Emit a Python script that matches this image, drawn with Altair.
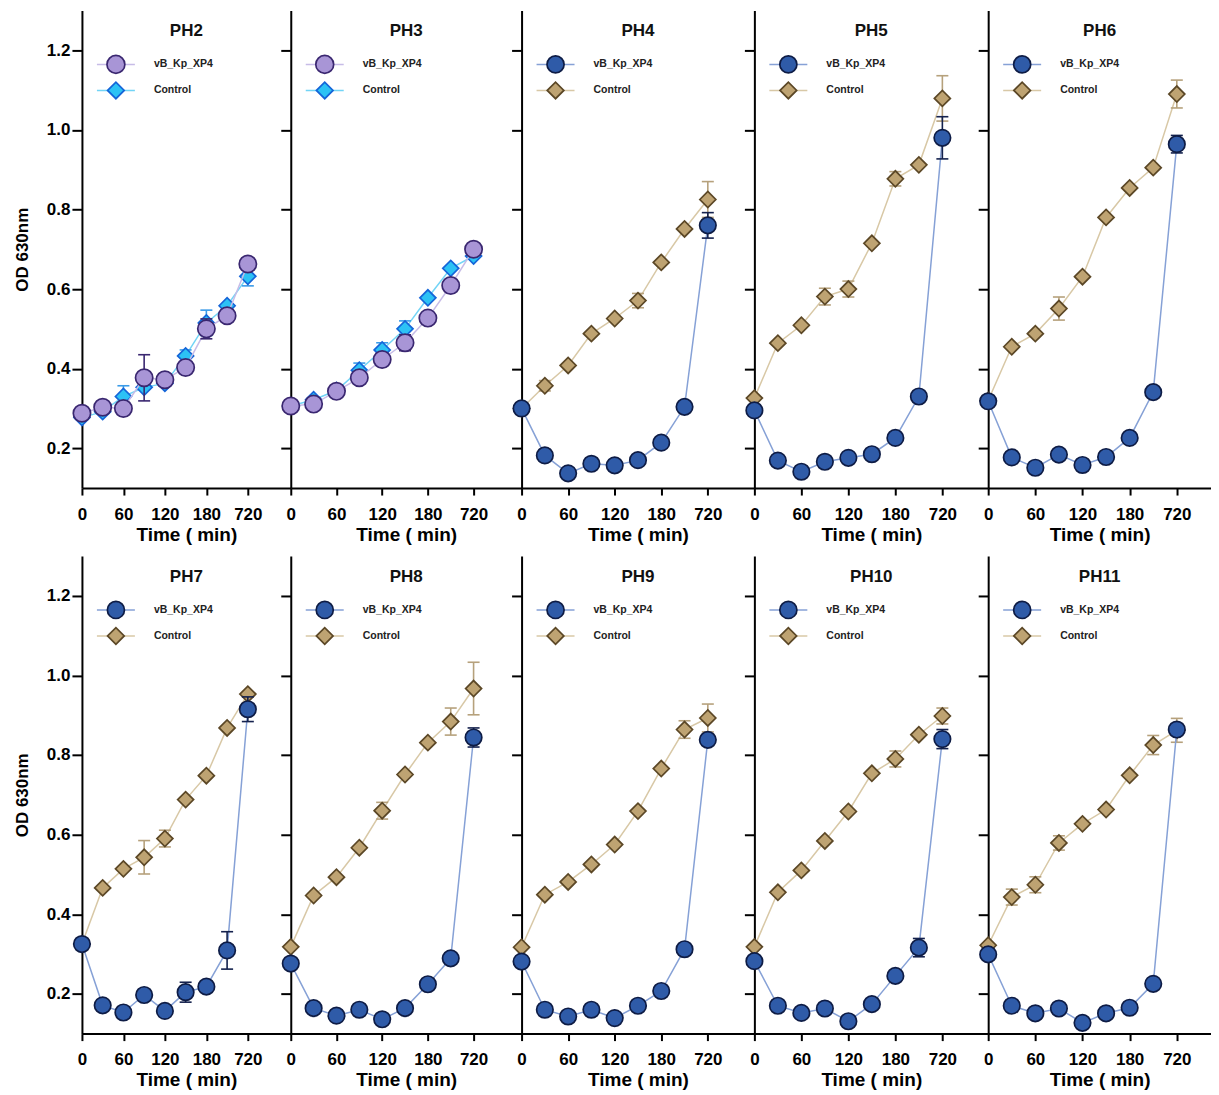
import altair as alt
import pandas as pd

# ---------------- data ----------------
PANELS = ["PH2", "PH3", "PH4", "PH5", "PH6", "PH7", "PH8", "PH9", "PH10", "PH11"]
TIME_IDX = [0, 1, 2, 3, 4, 5, 6, 7, 8]          # 0,30,...,210,720 min
TICK_IDX = [0, 2, 4, 6, 8]
TICK_LABELS = ["0", "60", "120", "180", "720"]
SERIES = ["vB_Kp_XP4", "Control"]

XP4_MEAN = {
    "PH2": [0.288, 0.303, 0.300, 0.377, 0.372, 0.403, 0.500, 0.533, 0.663],
    "PH3": [0.306, 0.311, 0.343, 0.377, 0.423, 0.465, 0.527, 0.609, 0.700],
    "PH4": [0.300, 0.182, 0.137, 0.161, 0.157, 0.170, 0.214, 0.304, 0.760],
    "PH5": [0.295, 0.169, 0.141, 0.166, 0.176, 0.185, 0.226, 0.330, 0.980],
    "PH6": [0.318, 0.177, 0.151, 0.184, 0.158, 0.178, 0.226, 0.341, 0.964],
    "PH7": [0.325, 0.171, 0.153, 0.197, 0.157, 0.204, 0.218, 0.309, 0.915],
    "PH8": [0.276, 0.164, 0.145, 0.160, 0.136, 0.164, 0.224, 0.289, 0.844],
    "PH9": [0.281, 0.160, 0.143, 0.160, 0.139, 0.170, 0.207, 0.312, 0.838],
    "PH10": [0.282, 0.170, 0.152, 0.163, 0.131, 0.174, 0.245, 0.316, 0.840],
    "PH11": [0.299, 0.170, 0.151, 0.163, 0.127, 0.151, 0.165, 0.225, 0.864],
}
XP4_ERR = {
    "PH2": [0, 0, 0, 0.058, 0, 0, 0.025, 0, 0],
    "PH3": [0, 0, 0, 0, 0, 0.020, 0, 0, 0],
    "PH4": [0, 0.015, 0, 0, 0, 0, 0, 0, 0.032],
    "PH5": [0, 0, 0, 0, 0, 0, 0, 0, 0.053],
    "PH6": [0, 0, 0, 0, 0, 0, 0, 0, 0.022],
    "PH7": [0, 0, 0, 0, 0, 0.025, 0, 0.047, 0.031],
    "PH8": [0, 0, 0, 0, 0, 0, 0, 0, 0.024],
    "PH9": [0, 0, 0, 0, 0, 0, 0, 0, 0],
    "PH10": [0, 0, 0, 0, 0, 0, 0, 0.023, 0.024],
    "PH11": [0, 0, 0, 0, 0, 0, 0, 0, 0],
}
CTRL_MEAN = {
    "PH2": [0.277, 0.292, 0.330, 0.353, 0.363, 0.432, 0.515, 0.558, 0.632],
    "PH3": [0.306, 0.322, 0.345, 0.396, 0.447, 0.500, 0.578, 0.652, 0.683],
    "PH4": [0.300, 0.357, 0.408, 0.488, 0.526, 0.571, 0.667, 0.751, 0.825],
    "PH5": [0.326, 0.464, 0.509, 0.581, 0.600, 0.715, 0.877, 0.912, 1.079],
    "PH6": [0.320, 0.455, 0.488, 0.551, 0.631, 0.780, 0.854, 0.905, 1.090],
    "PH7": [0.325, 0.466, 0.514, 0.543, 0.590, 0.688, 0.748, 0.868, 0.953],
    "PH8": [0.318, 0.447, 0.493, 0.567, 0.660, 0.751, 0.831, 0.884, 0.967],
    "PH9": [0.317, 0.449, 0.481, 0.525, 0.575, 0.659, 0.766, 0.864, 0.893],
    "PH10": [0.318, 0.455, 0.510, 0.584, 0.658, 0.754, 0.790, 0.851, 0.898],
    "PH11": [0.322, 0.443, 0.474, 0.579, 0.627, 0.663, 0.749, 0.825, 0.862],
}
CTRL_ERR = {
    "PH2": [0, 0, 0.027, 0, 0, 0.015, 0.032, 0, 0.024],
    "PH3": [0, 0, 0, 0.018, 0.018, 0.020, 0, 0, 0],
    "PH4": [0, 0.013, 0, 0, 0, 0.018, 0, 0, 0.045],
    "PH5": [0, 0, 0, 0.021, 0.020, 0, 0.018, 0, 0.057],
    "PH6": [0, 0, 0, 0.029, 0, 0, 0, 0, 0.035],
    "PH7": [0, 0, 0, 0.042, 0.021, 0, 0, 0, 0],
    "PH8": [0, 0, 0, 0, 0.021, 0, 0, 0.034, 0.066],
    "PH9": [0, 0, 0, 0, 0, 0, 0, 0.022, 0.035],
    "PH10": [0, 0, 0, 0, 0, 0, 0.020, 0, 0.020],
    "PH11": [0, 0.020, 0.020, 0.018, 0, 0, 0, 0.024, 0.030],
}

rows = []
for p in PANELS:
    for s, means, errs in ((SERIES[0], XP4_MEAN, XP4_ERR), (SERIES[1], CTRL_MEAN, CTRL_ERR)):
        for i, m, e in zip(TIME_IDX, means[p], errs[p]):
            rows.append({"panel": p, "series": s, "idx": i, "mean": m, "err": e})
df = pd.DataFrame(rows)

# ---------------- style ----------------
FONT = "Liberation Sans"
PAL_A = {
    SERIES[0]: dict(fill="#a895d6", stroke="#3a2770", line="#c7bce7", err="#3a2770",
                    shape="circle", size=300),
    SERIES[1]: dict(fill="#2cc2f5", stroke="#1565d8", line="#72d4f6", err="#3a9be8",
                    shape="diamond", size=256),
}
PAL_B = {
    SERIES[0]: dict(fill="#2f5ba8", stroke="#0e1c45", line="#86a1d6", err="#14214d",
                    shape="circle", size=272),
    SERIES[1]: dict(fill="#bea372", stroke="#5b4726", line="#d8c8a6", err="#b6a17c",
                    shape="diamond", size=256),
}
WIDTHS = [209, 231, 233, 234, 223]
XMAX = [10.07, 10.1, 10.0, 9.95, 9.45]
HEIGHT = 478

label_expr = " : ".join(
    [f"datum.value == {v} ? '{t}'" for v, t in zip(TICK_IDX, TICK_LABELS)] + ["''"]
)


def make_panel(p, col):
    pal = PAL_A if p in ("PH2", "PH3") else PAL_B
    first = col == 0

    xaxis = alt.Axis(values=TICK_IDX, labelExpr=label_expr, title="Time ( min)",
                     tickSize=7, labelPadding=11, titlePadding=3, labelFlush=False,
                     labelOverlap=False, labelFontSize=17, titleFontSize=19)
    if first:
        yaxis = alt.Axis(values=[0.2, 0.4, 0.6, 0.8, 1.0, 1.2], format=".1f",
                         title="OD 630nm", tickSize=10, labelPadding=2, titlePadding=15,
                         labelFontSize=17, titleFontSize=17, labelFlush=False)
    else:
        yaxis = alt.Axis(values=[0.2, 0.4, 0.6, 0.8, 1.0, 1.2], labels=False,
                         title=None, tickSize=10)
    xsc = alt.Scale(domain=[0, XMAX[col]], nice=False, zero=False)
    ysc = alt.Scale(domain=[0.1, 1.3], nice=False, zero=False)

    def X():
        return alt.X("idx:Q", scale=xsc, axis=xaxis)

    def Y(field):
        return alt.Y(f"{field}:Q", scale=ysc, axis=yaxis)

    base = alt.Chart(df).transform_filter(alt.datum.panel == p)
    layers = []
    for s in (SERIES[1], SERIES[0]):
        c = pal[s]
        sb = base.transform_filter(alt.datum.series == s)
        layers.append(sb.mark_line(color=c["line"], strokeWidth=1.5).encode(x=X(), y=Y("mean")))
        eb = sb.transform_filter(alt.datum.err > 0).transform_calculate(
            lo="datum.mean - datum.err", hi="datum.mean + datum.err")
        layers.append(eb.mark_rule(color=c["err"], strokeWidth=1.6).encode(
            x=X(), y=Y("lo"), y2="hi:Q"))
        for f in ("lo", "hi"):
            layers.append(eb.mark_tick(orient="horizontal", size=12, thickness=1.6,
                                       color=c["err"], opacity=1).encode(x=X(), y=Y(f)))
        layers.append(sb.mark_point(shape=c["shape"], size=c["size"], filled=True,
                                    fill=c["fill"], stroke=c["stroke"], strokeWidth=1.7,
                                    opacity=1).encode(x=X(), y=Y("mean")))

    # in-panel legend
    for r, s in enumerate(SERIES):
        c = pal[s]
        ly = 54 + 26 * r
        leg = alt.Chart(pd.DataFrame({"label": [s]}))
        layers.append(leg.mark_rule(color=c["line"], strokeWidth=1.5).encode(
            x=alt.value(15), x2=alt.value(53), y=alt.value(ly)))
        layers.append(leg.mark_point(shape=c["shape"], size=c["size"] + 20, filled=True,
                                     fill=c["fill"], stroke=c["stroke"], strokeWidth=1.7,
                                     opacity=1).encode(x=alt.value(34), y=alt.value(ly)))
        layers.append(leg.mark_text(align="left", baseline="middle", font=FONT,
                                    fontSize=10.5, fontWeight="bold", color="#222222").encode(
            x=alt.value(72), y=alt.value(ly), text="label:N"))

    return alt.layer(*layers).properties(
        width=WIDTHS[col], height=HEIGHT,
        title=alt.TitleParams(p, offset=-30, fontSize=17, font=FONT, fontWeight="bold",
                              anchor="middle", color="#111111"),
    )


row1 = alt.hconcat(*[make_panel(p, i) for i, p in enumerate(PANELS[:5])], spacing=0, bounds="flush")
row2 = alt.hconcat(*[make_panel(p, i) for i, p in enumerate(PANELS[5:])], spacing=0, bounds="flush")

chart = alt.vconcat(row1, row2, spacing=12).properties(
    padding={"left": 5, "top": 2, "right": 0, "bottom": 0}
).configure_view(stroke=None).configure_axis(
    grid=False, domainColor="#000000", domainWidth=2, tickColor="#000000", tickWidth=2,
    labelFont=FONT, labelFontWeight="bold", labelColor="#000000",
    titleFont=FONT, titleFontWeight="bold", titleColor="#000000",
)

chart.save("out.html", embed_options={"renderer": "svg", "actions": False})
